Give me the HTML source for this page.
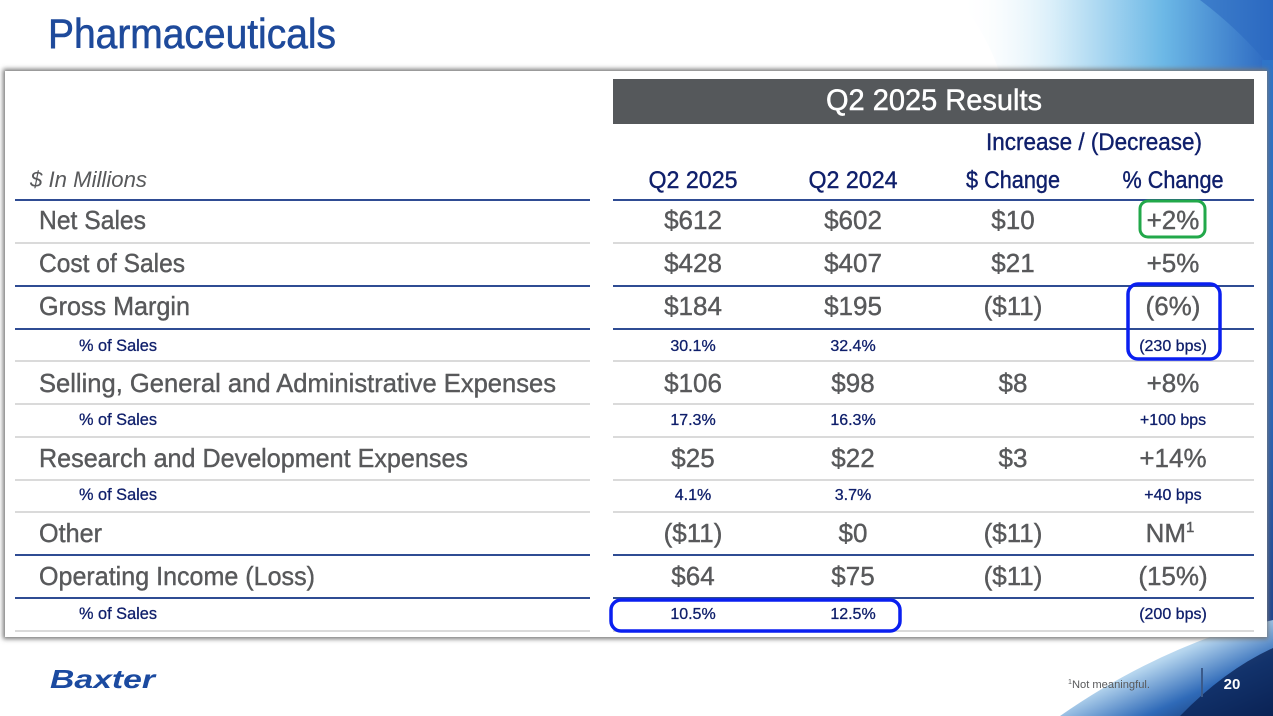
<!DOCTYPE html>
<html><head><meta charset="utf-8">
<style>
html,body{margin:0;padding:0;background:#fff;}
svg{display:block;}
text{font-family:"Liberation Sans",sans-serif;}
</style></head>
<body>
<svg width="1273" height="716" viewBox="0 0 1273 716" xmlns="http://www.w3.org/2000/svg">
<defs>
<linearGradient id="gt" x1="0" y1="0" x2="1" y2="0">
<stop offset="0" stop-color="#ffffff" stop-opacity="0"/>
<stop offset="0.3" stop-color="#d8eef9"/>
<stop offset="0.65" stop-color="#6cb8e6"/>
<stop offset="1" stop-color="#2a66c0"/>
</linearGradient>
<linearGradient id="gb" x1="0" y1="0" x2="1" y2="1">
<stop offset="0" stop-color="#ffffff" stop-opacity="0"/>
<stop offset="0.45" stop-color="#b5d5ee"/>
<stop offset="0.7" stop-color="#2f6ab8"/>
<stop offset="1" stop-color="#061a48"/>
</linearGradient>
<linearGradient id="gr" x1="0" y1="0" x2="0" y2="1">
<stop offset="0" stop-color="#2f74c8"/>
<stop offset="0.6" stop-color="#2a64b6"/>
<stop offset="1" stop-color="#1d3f86"/>
</linearGradient>
<filter id="sh" x="-5%" y="-5%" width="110%" height="110%">
<feGaussianBlur stdDeviation="2.5"/>
</filter>
</defs>

<!-- background swooshes -->
<path d="M960,0 L1273,0 L1273,75 L1000,75 Q990,40 960,0 Z" fill="url(#gt)"/>
<path d="M1200,0 Q1240,30 1273,70 L1273,0 Z" fill="#2d6ac2" opacity="0.6"/>
<rect x="1262" y="60" width="11" height="590" fill="url(#gr)"/>
<path d="M1060,716 Q1140,660 1230,630 L1273,620 L1273,716 Z" fill="url(#gb)"/>
<path d="M1180,716 Q1225,670 1273,648 L1273,716 Z" fill="#0b2458" opacity="0.8"/>

<!-- card -->
<rect x="3" y="69" width="1265" height="570" fill="#777" filter="url(#sh)"/>
<rect x="5" y="71" width="1262" height="566" fill="#ffffff"/>

<!-- title -->
<text x="48" y="48" font-size="42" fill="#1e4a9b" stroke="#1e4a9b" stroke-width="0.6" textLength="288" lengthAdjust="spacingAndGlyphs">Pharmaceuticals</text>

<!-- header band -->
<rect x="613" y="79" width="641" height="45" fill="#55585b"/>
<text x="934" y="110" font-size="30" fill="#ffffff" stroke="#ffffff" stroke-width="0.5" text-anchor="middle" textLength="216" lengthAdjust="spacingAndGlyphs">Q2 2025 Results</text>

<g stroke="#0f1f6b" stroke-width="0.4">
<text x="1094" y="150" font-size="24" fill="#0f1f6b" text-anchor="middle" textLength="216" lengthAdjust="spacingAndGlyphs">Increase / (Decrease)</text>
</g>

<text x="30" y="187" font-size="22" font-style="italic" fill="#58595b" textLength="117" lengthAdjust="spacingAndGlyphs">$ In Millions</text>
<g font-size="24" fill="#0f1f6b" stroke="#0f1f6b" stroke-width="0.4" text-anchor="middle">
<text x="693" y="188" textLength="89" lengthAdjust="spacingAndGlyphs">Q2 2025</text>
<text x="853" y="188" textLength="89" lengthAdjust="spacingAndGlyphs">Q2 2024</text>
<text x="1013" y="188" textLength="94" lengthAdjust="spacingAndGlyphs">$ Change</text>
<text x="1173" y="188" textLength="101" lengthAdjust="spacingAndGlyphs">% Change</text>
</g>

<!-- lines -->
<g stroke-width="2">
<line x1="15" y1="200" x2="590" y2="200" stroke="#2f4c93"/>
<line x1="613" y1="200" x2="1254" y2="200" stroke="#2f4c93"/>
<line x1="15" y1="243" x2="590" y2="243" stroke="#dadada"/>
<line x1="613" y1="243" x2="1254" y2="243" stroke="#dadada"/>
<line x1="15" y1="286" x2="590" y2="286" stroke="#2f4c93"/>
<line x1="613" y1="286" x2="1254" y2="286" stroke="#2f4c93"/>
<line x1="15" y1="329" x2="590" y2="329" stroke="#2f4c93"/>
<line x1="613" y1="329" x2="1254" y2="329" stroke="#2f4c93"/>
<line x1="15" y1="361" x2="590" y2="361" stroke="#dadada"/>
<line x1="613" y1="361" x2="1254" y2="361" stroke="#dadada"/>
<line x1="15" y1="404" x2="590" y2="404" stroke="#dadada"/>
<line x1="613" y1="404" x2="1254" y2="404" stroke="#dadada"/>
<line x1="15" y1="437" x2="590" y2="437" stroke="#dadada"/>
<line x1="613" y1="437" x2="1254" y2="437" stroke="#dadada"/>
<line x1="15" y1="480" x2="590" y2="480" stroke="#dadada"/>
<line x1="613" y1="480" x2="1254" y2="480" stroke="#dadada"/>
<line x1="15" y1="512" x2="590" y2="512" stroke="#dadada"/>
<line x1="613" y1="512" x2="1254" y2="512" stroke="#dadada"/>
<line x1="15" y1="555" x2="590" y2="555" stroke="#2f4c93"/>
<line x1="613" y1="555" x2="1254" y2="555" stroke="#2f4c93"/>
<line x1="15" y1="598" x2="590" y2="598" stroke="#2f4c93"/>
<line x1="613" y1="598" x2="1254" y2="598" stroke="#2f4c93"/>
<line x1="15" y1="631" x2="590" y2="631" stroke="#dadada"/>
<line x1="613" y1="631" x2="1254" y2="631" stroke="#dadada"/>
</g>

<!-- main row labels -->
<g font-size="26" fill="#58595b" stroke="#58595b" stroke-width="0.4">
<text x="39" y="229" textLength="107" lengthAdjust="spacingAndGlyphs">Net Sales</text>
<text x="39" y="272" textLength="146" lengthAdjust="spacingAndGlyphs">Cost of Sales</text>
<text x="39" y="315" textLength="151" lengthAdjust="spacingAndGlyphs">Gross Margin</text>
<text x="39" y="392" textLength="517" lengthAdjust="spacingAndGlyphs">Selling, General and Administrative Expenses</text>
<text x="39" y="467" textLength="429" lengthAdjust="spacingAndGlyphs">Research and Development Expenses</text>
<text x="39" y="542" textLength="63" lengthAdjust="spacingAndGlyphs">Other</text>
<text x="39" y="585" textLength="276" lengthAdjust="spacingAndGlyphs">Operating Income (Loss)</text>
</g>
<g font-size="17" fill="#0f1f6b" stroke="#0f1f6b" stroke-width="0.3">
<text x="79" y="351" textLength="78" lengthAdjust="spacingAndGlyphs">% of Sales</text>
<text x="79" y="425" textLength="78" lengthAdjust="spacingAndGlyphs">% of Sales</text>
<text x="79" y="500" textLength="78" lengthAdjust="spacingAndGlyphs">% of Sales</text>
<text x="79" y="619" textLength="78" lengthAdjust="spacingAndGlyphs">% of Sales</text>
</g>

<!-- main values -->
<g font-size="26" fill="#58595b" stroke="#58595b" stroke-width="0.4" text-anchor="middle">
<text x="693" y="229">$612</text><text x="853" y="229">$602</text><text x="1013" y="229">$10</text><text x="1173" y="229">+2%</text>
<text x="693" y="272">$428</text><text x="853" y="272">$407</text><text x="1013" y="272">$21</text><text x="1173" y="272">+5%</text>
<text x="693" y="315">$184</text><text x="853" y="315">$195</text><text x="1013" y="315">($11)</text><text x="1173" y="315">(6%)</text>
<text x="693" y="392">$106</text><text x="853" y="392">$98</text><text x="1013" y="392">$8</text><text x="1173" y="392">+8%</text>
<text x="693" y="467">$25</text><text x="853" y="467">$22</text><text x="1013" y="467">$3</text><text x="1173" y="467">+14%</text>
<text x="693" y="542">($11)</text><text x="853" y="542">$0</text><text x="1013" y="542">($11)</text><text x="1170" y="542">NM<tspan font-size="15" dy="-10">1</tspan></text>
<text x="693" y="585">$64</text><text x="853" y="585">$75</text><text x="1013" y="585">($11)</text><text x="1173" y="585">(15%)</text>
</g>
<g font-size="16" fill="#0f1f6b" stroke="#0f1f6b" stroke-width="0.3" text-anchor="middle">
<text x="693" y="351">30.1%</text><text x="853" y="351">32.4%</text><text x="1173" y="351">(230 bps)</text>
<text x="693" y="425">17.3%</text><text x="853" y="425">16.3%</text><text x="1173" y="425">+100 bps</text>
<text x="693" y="500">4.1%</text><text x="853" y="500">3.7%</text><text x="1173" y="500">+40 bps</text>
<text x="693" y="619">10.5%</text><text x="853" y="619">12.5%</text><text x="1173" y="619">(200 bps)</text>
</g>

<!-- annotations -->
<rect x="1140" y="201" width="65" height="36" rx="8" fill="none" stroke="#22a84a" stroke-width="3"/>
<rect x="1128" y="284" width="92" height="75" rx="10" fill="none" stroke="#0a1ff0" stroke-width="3.5"/>
<rect x="611" y="600" width="289" height="31" rx="10" fill="none" stroke="#0a1ff0" stroke-width="3.5"/>

<!-- footer -->
<text x="50" y="688" font-size="26" font-weight="bold" font-style="italic" fill="#1b4aa0" textLength="105" lengthAdjust="spacingAndGlyphs">Baxter</text>
<text x="1068" y="688" font-size="11" fill="#58595b" textLength="82" lengthAdjust="spacingAndGlyphs"><tspan font-size="7" dy="-4">1</tspan><tspan dy="4">Not meaningful.</tspan></text>
<line x1="1202" y1="668" x2="1202" y2="697" stroke="#3a5a8a" stroke-width="2"/>
<text x="1232" y="689" font-size="15" font-weight="bold" fill="#ffffff" text-anchor="middle">20</text>
</svg>
</body></html>
